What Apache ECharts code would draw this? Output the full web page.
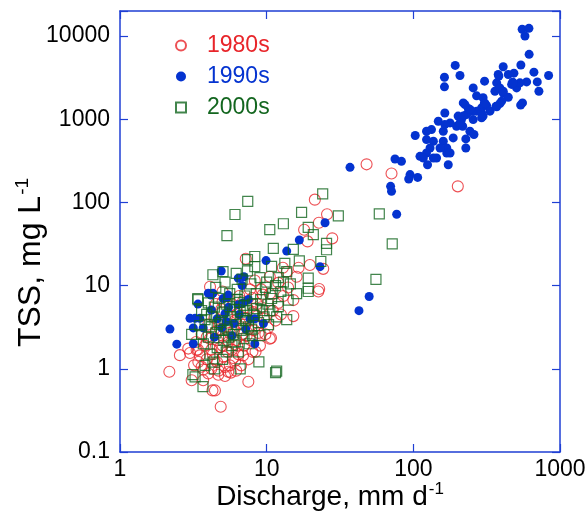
<!DOCTYPE html>
<html><head><meta charset="utf-8">
<script src="https://cdn.jsdelivr.net/npm/echarts@6/dist/echarts.min.js"></script>
<style>html,body{margin:0;padding:0;background:#fff}#c{width:588px;height:517px}</style>
</head><body><div id="c"></div>
<script>
// ---- data ----
const seriesNames = ['1980s', '1990s', '2000s'];
const xTicks = [1, 10, 100, 1000];
const yTicks = [0.1, 1, 10, 100, 1000, 10000];

const data1980s = [
 [21.3,108],[25.8,72],[22.7,57],[18,47],[28,37],[19,34],[7.2,21],[19.7,17.7],[16.5,16.4],[24.3,15.9],
 [12.9,16.4],[13.7,14.7],[16,12.8],[10.5,12.8],[12,10.8],[22.8,9.1],[48,287],[71,223],[201,156],
 [4.11,9.7],[5.0,8.5],[10.5,2.3],[2.17,0.92],[2.56,1.46],[3.0,1.55],[2.92,1.75],[3.33,1.68],[3.08,0.73],
 [3.69,0.73],[4.44,0.55],[4.27,0.55],[4.86,0.35],[3.42,1.21],[3.6,1.06],[4.0,0.88],[4.68,0.85],[5.47,0.92],
 [15.2,6.7],[15.2,4.3],[10.7,2.35],[8.4,1.6],[7.5,1.3],[7.5,0.70],[22.5,8.5],
 [3.8,1.9],[4.1,2.3],[4.3,1.5],[4.5,2.8],[4.6,1.2],[4.8,1.8],[5.0,2.5],[5.1,1.4],[5.3,3.2],[5.5,2.1],
 [5.6,1.1],[5.8,1.7],[6.0,2.9],[6.2,2.2],[6.4,1.5],[6.6,3.5],[6.8,2.6],[7.0,1.9],[7.2,4.1],[7.5,3.0],
 [7.8,2.2],[8.1,4.8],[8.4,3.3],[8.8,2.7],[9.2,5.5],[9.6,4.0],[10.2,3.1],[11.0,5.0],[12.0,6.2],[13.0,7.5],
 [4.0,3.4],[4.4,4.1],[4.9,5.2],[5.4,4.4],[5.9,5.8],[6.3,4.6],[6.9,6.5],[7.4,5.3],[8.0,7.1],[8.6,6.0],
 [9.4,7.8],[3.6,2.6],[3.9,1.3],[4.2,1.0],[4.7,0.95],[5.2,1.05],[5.7,0.9],[6.1,1.25],[6.7,1.1],[3.5,1.45],
 [3.3,2.1],[3.2,1.1],[6.5,7.5],[7.7,9.0],[10.5,8.0],[11.5,3.8],[9.0,1.9],[8.0,1.6],[5.0,6.4],[4.5,6.0],
 [4.2,1.7],[4.6,2.2],[5.0,1.9],[5.4,1.6],[5.9,1.35],[6.3,1.9],[6.9,1.45],[7.3,2.5],[8.2,2.9],[3.9,2.4],
 [4.8,3.0],[5.6,2.7],[6.1,3.8],[7.0,3.4],[9.8,2.6],[8.6,4.3],[3.4,1.7],[4.4,1.3],[5.2,0.82],[6.2,0.95],
 [3.7,0.98],[12.5,4.5],[9.2,9.0],[14,9.5],[8.3,11.5]
];

const data1990s = [
 [552,12050],[614,12380],[577,10000],[616,6030],[193,4440],[410,4270],[541,4480],[664,3680],[836,3360],
 [163,3200],[208,3360],[163,2450],[306,2870],[256,2380],[270,1910],[379,3450],[444,3450],[485,3580],
 [592,2810],[700,2810],[718,2170],[475,2790],[506,2380],[370,2740],[360,2170],[389,2380],[410,2070],
 [444,1840],[400,1650],[366,1430],[539,1480],[555,1570],[305,1570],[316,1460],[292,1370],[219,1570],
 [237,1350],[270,1250],[250,1250],[231,1140],[164,1190],[292,1040],[202,1090],[213,990],[197,824],
 [178,903],[148,946],[133,751],[123,717],[160,717],[187,596],[243,717],[259,655],[228,580],[228,451],
 [103,637],[123,569],[137,543],[160,543],[130,451],[169,451],[123,393],[111,358],[117,342],[144,342],
 [173,284],[169,393],[125,284],[75,333],[83,312],[95,216],[93,191],[107,200],[70,156],[71,136],[37,264],
 [152,451],[178,393],[137,342],[164,863],[299,1810],[468,2620],[533,2740],[333,1250],[217,824],
 [383,3300],[410,2170],[480,2740],[389,1540],[370,1410],[309,1540],[292,1190],[299,1090],[243,1310],
 [225,1500],[219,1090],[256,990],[208,903],[77,72],[50,7.4],[42.6,5.0],
 [25,57],[16.7,35.4],[13.7,26],[9.9,20],[23.1,16.9],[7.0,12.8],[6.8,10],[6.4,12.3],[4.9,15],[4.0,8.1],
 [4.3,8.1],[5.36,7.2],[3.4,6.0],[4.2,5.1],[3.0,4.04],[3.25,4.04],[3.5,4.04],[2.19,3.0],[2.44,1.98],
 [3.16,3.1],[3.69,3.1],[3.16,2.0],[8.3,2.0],[7.7,4.0],[8.3,4.0],[4.17,7.7],[5.06,7.0],[5.47,7.7],
 [5.2,4.6],[5.3,3.7],[4.93,3.1],[6.4,5.9],[6.0,3.5],[6.5,4.5],[7.2,3.0],[5.8,2.5],[4.6,4.0],[6.9,6.2],
 [9.5,3.5],[5.5,5.5],[4.4,2.4],[7.5,6.8]
];

const data2000s = [
 [24.1,127],[7.43,103],[30.8,69],[17.3,76],[13.0,55.4],[10.5,47],[19.2,50],[20.8,41],[5.36,40],[6.08,71.6],
 [11.1,28],[15.2,27.3],[25.6,32.2],[25.6,27],[8.3,22.4],[8.3,16.9],[7.4,20.5],[13.3,18.5],[13.7,14.7],
 [16.7,19.8],[23.4,19.5],[19.2,12.3],[19.2,9.3],[5.04,14.7],[3.4,6.8],[11.7,0.94],[8.85,1.21],[6.6,1.0],
 [3.68,0.61],[3.14,0.85],[3.25,0.80],[3.39,7.0],[3.08,2.6],[3.8,3.9],[11.5,0.90],[13.7,3.9],[11.7,4.2],
 [10.3,3.4],[12.0,5.6],[14.0,6.7],[19.2,8.5],[58.6,73],[71.8,31.8],[55.6,11.9],
 [3.6,5.0],[3.9,4.5],[4.0,6.2],[4.2,3.2],[4.4,5.5],[4.5,2.7],[4.7,7.0],[4.8,3.6],[5.0,4.8],[5.1,2.2],
 [5.3,6.0],[5.4,3.0],[5.6,8.0],[5.7,4.2],[5.9,2.6],[6.0,5.2],[6.2,3.4],[6.3,9.0],[6.5,6.3],[6.7,2.9],
 [6.9,4.0],[7.1,7.5],[7.3,5.0],[7.5,3.2],[7.8,10.5],[8.0,6.0],[8.2,4.4],[8.5,8.0],[8.8,3.6],[9.1,6.8],
 [9.4,5.0],[9.8,9.5],[10.2,6.0],[10.8,7.0],[11.5,10],[12.5,8.5],[3.7,2.0],[4.1,1.5],[4.3,1.2],[4.6,1.8],
 [5.0,1.3],[5.3,1.6],[5.8,1.9],[6.4,1.6],[7.0,2.3],[7.6,2.0],[3.5,3.3],[3.8,1.1],[9.0,2.5],[10.0,11],
 [12.0,12.5],[6.8,12],[5.2,11],[4.5,9.5],[4.3,13.5],[14.5,10.5],[16,8],[4.4,1.0],
 [4.0,2.4],[4.6,3.4],[5.2,3.8],[5.5,2.4],[6.1,2.1],[6.6,4.8],[7.2,3.8],[7.9,3.0],[8.5,5.3],[9.6,4.2],
 [10.5,5.0],[4.9,2.9],[5.6,5.6],[6.3,6.8],[7.0,5.8],[4.2,4.3],[3.6,2.6],[8.0,2.5],[11.0,8.0],[9.0,12.5],
 [13,11],[7.4,15],[6.2,14],[10.8,17]
];

// ---- chart ----
const FONT = 'Liberation Sans, Arial, Helvetica, sans-serif';
const AXIS_BLUE = '#1f3fd4';
const C_RED = '#e8252a', C_BLUE = '#0433d0', C_GREEN = '#13661f';

function decadeLabel(v) {
  const ok = (xTicks.concat(yTicks)).some(t => Math.abs(t - v) / t < 1e-6);
  if (!ok) return '';
  return v < 1 ? v.toFixed(1) : String(Math.round(v));
}

const axisCommon = {
  type: 'log', logBase: 10,
  splitLine: { show: false },
  minorTick: { show: false },
  nameMoveOverlap: false,
  axisLine: { show: true, onZero: false, lineStyle: { color: AXIS_BLUE, width: 1.5 } },
  axisTick: { show: true, inside: true, length: 8, lineStyle: { color: AXIS_BLUE, width: 1.2 } }
};

const xTitleRich = {
  a: { fontFamily: FONT, fontSize: 28, color: '#000' },
  s: { fontFamily: FONT, fontSize: 17, color: '#000', padding: [0, 0, 16, 1] }
};
const yTitleRich = {
  a: { fontFamily: FONT, fontSize: 32, color: '#000' },
  s: { fontFamily: FONT, fontSize: 19, color: '#000', padding: [0, 0, 18, 1] }
};

const chart = echarts.init(document.getElementById('c'), null, { renderer: 'canvas' });
chart.setOption({
  animation: false,
  backgroundColor: '#ffffff',
  grid: { left: 120, right: 28, top: 11, bottom: 65, containLabel: false, outerBoundsMode: 'none' },
  legend: {
    orient: 'vertical', left: 170, top: 29,
    itemWidth: 10, itemHeight: 10, itemGap: 8,
    textStyle: { fontFamily: FONT, fontSize: 23, lineHeight: 23, padding: [0, 0, 0, 16] },
    data: [
      { name: seriesNames[0], textStyle: { color: C_RED } },
      { name: seriesNames[1], textStyle: { color: C_BLUE } },
      { name: seriesNames[2], textStyle: { color: C_GREEN } }
    ]
  },
  xAxis: [
    Object.assign({}, axisCommon, {
      position: 'bottom', min: 1, max: 1000,
      name: '{a|Discharge, mm d}{s|-1}', nameLocation: 'middle', nameGap: 29,
      nameTextStyle: { rich: xTitleRich, padding: [0, 20, 0, 0] },
      axisLabel: { formatter: decadeLabel, fontFamily: FONT, fontSize: 23, color: '#000', margin: 6 }
    }),
    Object.assign({}, axisCommon, {
      position: 'top', min: 1, max: 1000, axisLabel: { show: false }
    })
  ],
  yAxis: [
    Object.assign({}, axisCommon, {
      position: 'left', min: 0.1, max: 20000,
      name: '{a|TSS, mg L}{s|-1}', nameLocation: 'middle', nameGap: 70,
      nameTextStyle: { rich: yTitleRich, padding: [0, 62, 0, 0] },
      axisLabel: { formatter: decadeLabel, fontFamily: FONT, fontSize: 23, color: '#000', margin: 10 }
    }),
    Object.assign({}, axisCommon, {
      position: 'right', min: 0.1, max: 20000, axisLabel: { show: false }
    })
  ],
  series: [
    { name: seriesNames[0], type: 'scatter', data: data1980s, symbol: 'circle', symbolSize: 11,
      itemStyle: { color: 'rgba(255,255,255,0)', borderColor: C_RED, borderWidth: 1.1 } },
    { name: seriesNames[1], type: 'scatter', data: data1990s, symbol: 'circle', symbolSize: 9,
      itemStyle: { color: C_BLUE, borderWidth: 0, opacity: 1 } },
    { name: seriesNames[2], type: 'scatter', data: data2000s, symbol: 'rect', symbolSize: 10,
      itemStyle: { color: 'rgba(255,255,255,0)', borderColor: C_GREEN, borderWidth: 1.2 } }
  ]
});
</script></body></html>
